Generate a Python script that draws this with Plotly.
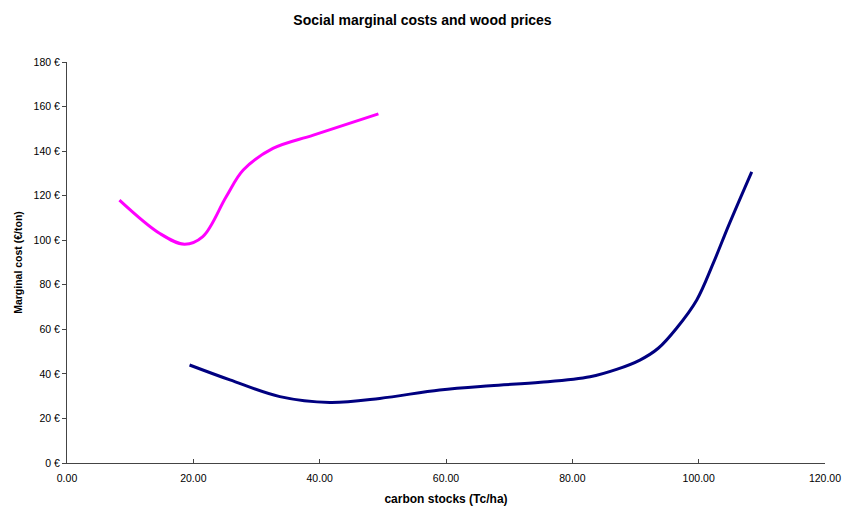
import plotly.graph_objects as go

# Series
wood_x = [8.3, 14.7, 18.6, 21.5, 25.2, 27.9, 32.6, 39.0, 49.3]
wood_y = [118, 103, 98.2, 101.6, 119.5, 131.5, 141.2, 147.2, 156.7]

social_x = [19.4, 25.8, 33.7, 41.6, 49.5, 59.0, 67.0, 75.0, 82.8, 87.0, 90.7, 93.6, 96.5, 99.7, 102.3, 104.8, 108.4]
social_y = [44.0, 37.3, 29.8, 27.2, 29.0, 32.8, 34.7, 36.2, 38.7, 42.0, 46.2, 51.5, 60.5, 73.2, 89.6, 107.0, 130.7]

y_tickvals = [0, 20, 40, 60, 80, 100, 120, 140, 160, 180]
y_ticktext = [f"{v} €" for v in y_tickvals]
x_tickvals = [0, 20, 40, 60, 80, 100, 120]

fig = go.Figure()
fig.add_trace(go.Scatter(x=wood_x, y=wood_y, mode="lines",
                         line=dict(color="#FF00FF", width=3, shape="spline", smoothing=1.0),
                         showlegend=False))
fig.add_trace(go.Scatter(x=social_x, y=social_y, mode="lines",
                         line=dict(color="#000080", width=3, shape="spline", smoothing=1.0),
                         showlegend=False))

font = "Liberation Sans, Arial, sans-serif"
fig.update_layout(
    width=845, height=506,
    margin=dict(l=67, r=20, t=62, b=43),
    paper_bgcolor="white", plot_bgcolor="white",
    font=dict(family=font, size=10.5, color="black"),
    title=dict(text="<b>Social marginal costs and wood prices</b>",
               x=0.5, xanchor="center", y=0.9605, yanchor="middle",
               font=dict(size=14, family=font, color="black")),
    xaxis=dict(range=[0, 120], tickvals=x_tickvals, tickformat=".2f",
               showgrid=False, zeroline=False, showline=True, linecolor="#444", linewidth=1,
               ticks="inside", ticklen=4, tickcolor="#444", ticklabelstandoff=5,
               title=dict(text="<b>carbon stocks (Tc/ha)</b>", font=dict(size=12), standoff=12),
               automargin=False),
    yaxis=dict(range=[0, 180], tickvals=y_tickvals, ticktext=y_ticktext,
               showgrid=False, zeroline=False, showline=True, linecolor="#444", linewidth=1,
               ticks="outside", ticklen=4, tickcolor="#444",
               title=dict(text="<b>Marginal cost (€/ton)</b>", font=dict(size=10.5), standoff=8),
               automargin=False),
)

fig.write_html("out.html",
               config={"displayModeBar": False},
               post_script="document.body.style.margin='0';document.body.style.overflow='hidden';")
